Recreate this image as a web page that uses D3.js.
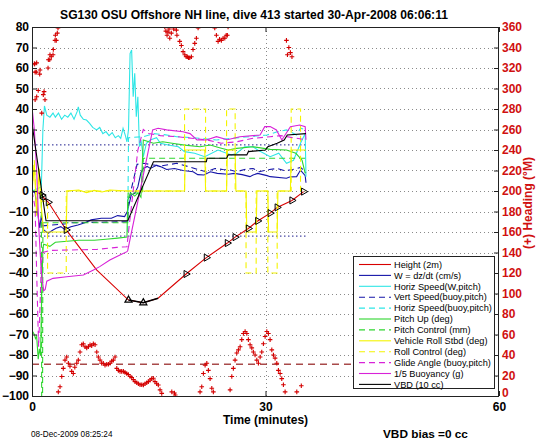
<!DOCTYPE html>
<html><head><meta charset="utf-8">
<script src="https://cdn.jsdelivr.net/npm/d3@7/dist/d3.min.js"></script>
<style>
body{margin:0;background:#fff;}
svg{display:block;font-family:"Liberation Sans",Arial,Helvetica,sans-serif;}
</style></head><body>
<svg id="c" width="546" height="442"></svg>
<script>
// ---------- data ----------
const titleText = "SG130 OSU Offshore NH line, dive 413 started 30-Apr-2008 06:06:11";
const xTicks = [0, 30, 60];
const yTicks = [-100,-90,-80,-70,-60,-50,-40,-30,-20,-10,0,10,20,30,40,50,60,70,80];
const headingTicks = [0,20,40,60,80,100,120,140,160,180,200,220,240,260,280,300,320,340,360];
const legendNames = ["Height (2m)","W = dz/dt (cm/s)","Horiz Speed(W,pitch)","Vert Speed(buoy,pitch)","Horiz Speed(buoy,pitch)","Pitch Up (deg)","Pitch Control (mm)","Vehicle Roll Stbd (deg)","Roll Control (deg)","Glide Angle (buoy,pitch)","1/5 Buoyancy (g)","VBD (10 cc)"];

// [time (min), value]
const height = [[0.4,0],[1.3,-2],[1.45,-3],[2.1,-5.5],[4.4,-19],[8.3,-38.5],[12.4,-53.2],[14.3,-54.5],[16.2,-52.3],[19.8,-40.5],[22.4,-32.5],[25.1,-25.4],[26.1,-22.5],[27.8,-18.3],[29,-14.6],[30.6,-10.8],[31.5,-8],[33.4,-4.6],[34.9,-0.3]];
const apogeeSegment = [[12.4,-53.2],[14.3,-54.5],[16.2,-52.3]];
const gcTriangles = [[1.3,-2],[2.1,-5.5],[4.4,-19],[19.8,-40.5],[22.4,-32.5],[25.1,-25.4],[26.1,-22.5],[27.8,-18.3],[29,-14.6],[30.6,-10.8],[31.5,-8],[33.4,-4.6],[34.9,-0.3]];
const apogeeTriangles = [[12.4,-53.2],[14.3,-54.5]];
const gcCircles = [[1.45,-3]];
const wSpeed = [[0,0],[0.4,-1],[0.7,-10],[1.0,-18],[1.2,-12],[1.5,-19],[2.06,-20.6],[2.7,-19],[3.1,-18.2],[3.7,-17.4],[4.2,-18.7],[5.0,-17.4],[5.9,-16.6],[6.8,-15.5],[7.6,-14.1],[8.9,-13.3],[10.2,-13.3],[11.0,-12],[11.9,-12.5],[12.25,-10],[12.75,-2],[13.2,-1.1],[13.6,2],[14.0,9],[14.3,11],[14.8,12],[15.2,11],[16.0,12.5],[16.5,11.9],[17.3,10.5],[18.3,11],[19.4,10],[20.7,9.4],[21.3,8],[22.1,7.8],[22.9,9.4],[23.8,8.6],[25.2,8.2],[26.0,8.6],[27.0,8],[28.0,7],[28.4,7.8],[29.0,8.6],[30.2,7.5],[30.6,7],[32.7,6.2],[33.1,6.8],[34.0,7],[34.5,10.2],[35.1,7.5],[35.2,4]];
const horizSpeedW = [[0,0],[1.2,2],[1.4,30],[1.6,41.5],[1.9,37],[2.3,36],[2.7,38],[3.0,36],[3.4,38],[3.8,35],[4.2,37],[4.6,36],[5.0,38],[5.4,35],[5.8,38.7],[5.95,41],[6.2,37],[6.6,35],[7.0,34.6],[7.4,33],[7.8,31],[8.3,29.8],[8.7,31],[9.1,28],[9.5,29],[9.9,27],[10.3,28.5],[10.7,26],[11.1,27],[11.4,25.7],[11.7,30.6],[12.0,27],[12.2,24],[12.4,30],[12.6,67],[12.8,68.8],[13.0,46],[13.2,57.4],[13.4,36.2],[13.6,46],[13.8,21.6],[14.0,24.9],[14.3,16.7],[14.5,20],[14.7,23.3],[15.2,24.9],[16,26],[16.5,23.3],[17.5,22.4],[18.8,21.6],[19.6,19.2],[20.9,18.4],[22.2,16.7],[23.9,20],[25.6,17.6],[26.3,18.4],[27.3,21.6],[28.4,21.6],[29,20],[30.6,16.7],[31.7,18.4],[32.7,13.5],[33.6,15],[34.5,23.3],[35.1,28],[35.2,7]];
const vertSpeedBuoy = [[1.3,-17],[4.4,-16],[4.5,-15.5],[12.3,-15],[12.4,-5],[13.5,13],[14.3,13.5],[15.6,12.7],[16.5,12.2],[18.6,13.5],[20,12],[21.6,10.2],[22.4,9.3],[23.5,11],[24.5,10.5],[25.5,10.2],[26.3,9.4],[27.3,10.5],[28.4,11],[29.2,9.4],[30.5,10.5],[31.5,11],[32.5,9.9],[33.5,10.5],[34.5,11.5],[35.2,9]];
const horizSpeedBuoy = [[12.3,-20],[12.4,26],[14.3,26.5],[15.6,28],[17.0,27.5],[18.6,26.5],[21.6,25.7],[23.7,24.9],[25.8,25.7],[28.0,26.5],[30.2,27.3],[31.5,28.9],[32.7,29.8],[34.0,27.3],[34.5,30.6],[35.2,29.8]];
const pitchUp = [[0,-68],[0.3,-70],[0.45,-72],[0.6,-71],[0.8,-82],[0.95,-77],[1.1,-80],[1.25,-50],[1.4,-28],[1.5,-26],[2.3,-27],[3,-25],[4.5,-24.5],[6,-24],[8,-24],[9.5,-23.5],[11,-23],[12.2,-22.5],[12.3,-4.4],[12.7,-1],[13.2,-2.5],[13.6,-1],[14.0,-3],[14.3,24.9],[15.0,24],[15.6,23.3],[16.8,24],[18.0,23.3],[19.6,22.4],[21.6,21.6],[22.9,22.4],[24.2,21],[25.2,20],[26.3,20.8],[28.4,21.6],[30.6,20.3],[32.7,20],[33.9,18.4],[34.7,15],[35.1,8.6]];
const pitchControl = [[0,0],[1.2,0],[1.25,-120],[1.35,-120],[1.4,-15.5],[12.3,-15.5],[12.35,-1],[14.2,-1],[14.3,16],[35.2,16]];
const vehicleRoll = [[0,0],[0.3,13],[0.6,-12],[0.9,10],[1.2,-8],[1.5,-20],[4.4,-20],[4.5,0],[6,0.5],[7,-0.8],[8,0.3],[9,-0.5],[10,0.5],[12.3,0],[19.6,0],[19.7,20],[22.2,20],[22.3,0],[25.0,0],[25.1,20],[26.1,20],[26.2,0],[27.5,0],[27.6,-20],[28.8,-20],[28.9,0],[30.3,0],[30.4,-20],[31.5,-20],[31.6,0],[33.2,0],[33.3,20],[35.2,20]];
const rollControl = [[0,0],[0.3,15],[0.6,-10],[0.9,12],[1.2,-5],[2.0,-5],[2.0,-40],[4.4,-40],[4.4,0],[12.3,0],[19.6,0],[19.6,40],[22.3,40],[22.3,0],[25.0,0],[25.0,40],[26.1,40],[26.1,0],[27.5,0],[27.5,-40],[28.8,-40],[28.8,0],[30.3,0],[30.3,-40],[31.5,-40],[31.5,0],[33.3,0],[33.3,40],[34.5,40],[34.5,0],[35.2,0]];
const glideAngle = [[0,0],[0.4,-8],[0.6,-40],[0.85,-76],[1.0,-60],[1.2,-35],[1.4,-30],[2.3,-29],[4.5,-28.8],[8.3,-28.5],[10.9,-27.5],[12.2,-27.2],[12.4,-20],[13.0,0],[13.6,20],[14.3,30],[15.0,28],[16.5,27],[18.6,26.5],[20.5,25.7],[22.5,24.9],[24.3,23.3],[26.3,24],[28.4,25.7],[30.6,26.5],[32,27],[33.5,26],[35.2,25]];
const buoyancy = [[0,41],[0.3,30],[0.6,10],[0.9,-20],[1.2,-40],[1.5,-48.6],[1.7,-48],[1.9,-44],[2.7,-42.6],[4.46,-41.8],[6.6,-41],[7.9,-38.5],[8.7,-36.9],[10.0,-33.7],[11.3,-31.2],[12.2,-29.6],[12.3,-29],[15.5,29.8],[16.2,30.6],[17.3,29.8],[19.4,28.9],[20.3,28],[21.2,24.9],[22.4,24.9],[23.7,26.5],[25.1,25],[26.7,26.5],[29.3,27.3],[29.9,31.4],[30.6,31.4],[31.4,29.8],[32.1,24.9],[33.2,31.4],[34.4,32.2],[35.1,31.4],[35.2,25]];
const vbd = [[0,33],[1.8,-14.5],[12.3,-14.5],[15.6,14.3],[22.4,14.3],[22.5,16],[25,16],[25.2,17.6],[27.6,17.6],[27.8,19.2],[30,20],[30.3,21.6],[31.5,23.3],[32.4,24.9],[32.8,27.3],[35.2,28]];
const glideTargets = [22.5, -22];
const desiredHeading = 31;
const heading = [[0.3,324],[0.35,324],[0.4,316],[0.4,289],[0.55,316],[0.6,292],[0.6,325],[0.8,298],[0.99,314],[1.03,318],[1.25,276],[1.45,294],[1.55,297],[1.67,289],[2.06,320],[2.1,328],[2.28,328],[2.31,333],[2.48,331],[2.7,333],[2.74,338],[2.96,347],[3.0,352],[3.12,347],[3.25,354],[3.34,359],
[3.38,4],[3.6,9],[3.82,19],[4.02,27],[4.24,35],[4.46,38],[4.67,32],[4.88,29],[5.1,24],[5.31,22],[5.5,28],[5.75,32],[5.95,35],[6.17,43],[6.39,50],[6.59,51],[6.81,48],[7.03,47],[7.25,48],[7.46,50],[7.67,49],[7.88,51],[8.1,50],[8.32,43],[8.52,38],[8.74,35],[8.95,32],[9.16,32],[9.38,30],[9.6,31],[9.82,31],[10.03,32],[10.24,34],[10.45,35],[10.67,38],[10.89,27],[11.1,25],[11.31,24],[11.52,24],[11.74,24],[11.95,23],[12.17,22],[12.38,21],[12.6,19],[12.81,18],[13.02,16],[13.24,14],[13.46,13],[13.67,12],[13.88,11],[14.1,11],[14.31,10.7],[14.52,12],[14.74,13],[14.95,14],[15.17,15.6],[15.38,17],[15.59,17.3],[15.8,14],[16.02,12],[16.23,10.7],[16.45,6],[16.67,2.6],
[17.06,360],[17.2,356],[17.35,352],[17.48,355],[17.6,358],[17.7,349],[17.9,354],[18.2,358],[18.55,357],[18.62,352],[18.98,346],[19.19,342],[19.41,336],[19.63,333],[19.8,331],[19.96,331],[20.1,330],[20.27,330],[20.48,331],[20.69,338],[20.91,344],[21.12,349],[21.34,359],
[17.96,4],[18.3,3],[18.4,1],
[21.59,4],[21.81,9],[22.02,22],[22.24,30],[22.46,32],[22.66,25],[22.88,17],[23.1,7.5],[23.3,4],
[23.48,359],[23.69,352],[23.91,346],[24.1,348],[24.33,347],[24.55,349],[24.77,349],[24.95,352],[25.1,352],[25.19,360],
[25.45,6],[25.67,19],[25.87,27],[26.09,35],[26.31,42],[26.52,45],[26.74,48],[26.95,55],[27.16,61],[27.38,63],[27.6,61],[27.8,55],[28.02,50],[28.24,47],[28.44,43],[28.66,40],[28.88,35],[29.09,32],[29.31,38],[29.52,43],[29.73,51],[29.95,58],[30.17,63],[30.37,61],[30.59,55],[30.81,45],[31.02,40],[31.23,37],[31.45,32],[31.66,25],[31.88,22],[32.09,17],[32.3,11],[32.52,4],
[32.69,347],[32.82,333],[33.0,340],[33.2,335],[33.4,331],[34.02,4],[34.6,10]];

// ---------- chart ----------
const svg = d3.select('#c');
const L = 32, R = 499, T = 27, B = 396;
const x = d3.scaleLinear().domain([0,60]).range([L,R]);
const y = d3.scaleLinear().domain([-100,80]).range([B,T]);
const yh = d3.scaleLinear().domain([0,360]).range([B,T]);
const minus = v => String(v).replace('-', '\u2212');

svg.append('defs').append('clipPath').attr('id','clip')
  .append('rect').attr('x',L).attr('y',T).attr('width',R-L).attr('height',B-T);

// grid
const grid = svg.append('g').attr('stroke','#8a8a8a').attr('stroke-width',1).attr('stroke-dasharray','1,3');
grid.selectAll('line.h').data(yTicks.filter(v => v > -100 && v < 80)).join('line')
  .attr('x1',L).attr('x2',R).attr('y1',d => Math.round(y(d))+0.5).attr('y2',d => Math.round(y(d))+0.5);
grid.selectAll('line.v').data(xTicks.filter(v => v > 0 && v < 60)).join('line')
  .attr('y1',T).attr('y2',B).attr('x1',d => Math.round(x(d))+0.5).attr('x2',d => Math.round(x(d))+0.5);

const plot = svg.append('g').attr('clip-path','url(#clip)');

// reference lines
plot.selectAll('line.gt').data(glideTargets).join('line')
  .attr('x1',x(0)).attr('x2',x(d3.max(vbd, d => d[0])))
  .attr('y1',d => y(d)).attr('y2',d => y(d))
  .attr('stroke','#1a1a8c').attr('stroke-width',1).attr('stroke-dasharray','1.5,2.5');

const line = d3.line().x(d => x(d[0])).y(d => y(d[1]));
const series = [
  {data: height, color:'#d80000', dash:null},
  {data: wSpeed, color:'#1515a8', dash:null},
  {data: horizSpeedW, color:'#2ee6e6', dash:null},
  {data: vertSpeedBuoy, color:'#1515a8', dash:'6,4'},
  {data: horizSpeedBuoy, color:'#2ee6e6', dash:'6,4'},
  {data: pitchUp, color:'#2fd62f', dash:null},
  {data: pitchControl, color:'#2fd62f', dash:'6,4'},
  {data: vehicleRoll, color:'#f4f400', dash:null},
  {data: rollControl, color:'#f4f400', dash:'6,4'},
  {data: glideAngle, color:'#d822d8', dash:'6,4'},
  {data: buoyancy, color:'#d822d8', dash:null},
  {data: vbd, color:'#000000', dash:null}
];
series.forEach(s => {
  plot.append('path').datum(s.data).attr('d', line)
    .attr('fill','none').attr('stroke', s.color).attr('stroke-width',1.1)
    .attr('stroke-dasharray', s.dash);
});
plot.append('path').datum(apogeeSegment).attr('d', line)
  .attr('fill','none').attr('stroke','#000').attr('stroke-width',1.6);

// markers on height
const tri = d3.symbol(d3.symbolTriangle, 22);
plot.selectAll('path.gc').data(gcTriangles).join('path')
  .attr('d', tri).attr('transform', d => `translate(${x(d[0])},${y(d[1])}) rotate(90)`)
  .attr('fill','none').attr('stroke','#000').attr('stroke-width',1);
plot.selectAll('path.ap').data(apogeeTriangles).join('path')
  .attr('d', tri).attr('transform', d => `translate(${x(d[0])},${y(d[1])})`)
  .attr('fill','none').attr('stroke','#000').attr('stroke-width',1.2);
plot.selectAll('circle.gc').data(gcCircles).join('circle')
  .attr('cx', d => x(d[0])).attr('cy', d => y(d[1])).attr('r',2.8)
  .attr('fill','none').attr('stroke','#000').attr('stroke-width',1);

// heading
plot.append('line').attr('x1',L).attr('x2',R).attr('y1',yh(desiredHeading)).attr('y2',yh(desiredHeading))
  .attr('stroke','#a84a4a').attr('stroke-width',1.5).attr('stroke-dasharray','7,5');
const plus = plot.append('g').attr('stroke','#d40000').attr('stroke-width',1.1);
plus.selectAll('path').data(heading).join('path')
  .attr('d', d => { const cx = x(d[0]), cy = yh(d[1]); return `M${cx-2.3},${cy}H${cx+2.3}M${cx},${cy-2.3}V${cy+2.3}`; });

// axes
const styleAxis = (g, color) => {
  g.select('.domain').remove();
  g.selectAll('.tick line').attr('stroke','#222');
  g.selectAll('.tick text').attr('font-size','12px').attr('font-weight','bold')
    .attr('font-family','"Liberation Sans",Arial,sans-serif').attr('fill',color);
};
svg.append('g').attr('transform',`translate(${L},0)`)
  .call(d3.axisLeft(y).tickValues(yTicks).tickSize(-5).tickPadding(3).tickFormat(minus))
  .call(g => styleAxis(g,'#000'));
svg.append('g').attr('transform',`translate(${R},0)`)
  .call(d3.axisRight(yh).tickValues(headingTicks).tickSize(-5).tickPadding(3))
  .call(g => styleAxis(g,'#d01010'))
  .call(g => g.selectAll('.tick text').filter(d => d === 0).attr('dy','0.05em'));
svg.append('g').attr('transform',`translate(0,${B})`)
  .call(d3.axisBottom(x).tickValues(xTicks).tickSize(-5).tickPadding(6))
  .call(g => styleAxis(g,'#000'));
svg.append('g').attr('transform',`translate(0,${T})`)
  .call(d3.axisTop(x).tickValues(xTicks).tickSize(-5).tickFormat(''))
  .call(g => styleAxis(g,'#000'));
svg.append('rect').attr('x',L+0.5).attr('y',T+0.5).attr('width',R-L-1).attr('height',B-T)
  .attr('fill','none').attr('stroke','#222').attr('stroke-width',1);

// legend
const lg = svg.append('g').attr('transform','translate(353,256)');
lg.append('rect').attr('x',0.5).attr('y',0.5).attr('width',141).attr('height',132)
  .attr('fill','#fff').attr('stroke','#222').attr('stroke-width',1);
legendNames.forEach((name,i) => {
  const s = series[i], cy = 8.5 + i*10.9;
  lg.append('line').attr('x1',6).attr('x2',38).attr('y1',cy).attr('y2',cy)
    .attr('stroke', s.color).attr('stroke-width',1.1).attr('stroke-dasharray', s.dash);
  lg.append('text').attr('x',41).attr('y',cy+3.2).text(name)
    .attr('font-size','9.2px').attr('fill','#000');
});

// texts
svg.append('text').attr('x',254).attr('y',18.5).attr('text-anchor','middle')
  .attr('font-size','12.1px').attr('font-weight','bold').text(titleText);
svg.append('text').attr('x',x(30)).attr('y',424).attr('text-anchor','middle')
  .attr('font-size','12px').attr('font-weight','bold').text('Time (minutes)');
svg.append('text').attr('x',383).attr('y',438).attr('font-size','11.8px').attr('font-weight','bold')
  .text('VBD bias =0 cc');
svg.append('text').attr('x',31).attr('y',437).attr('font-size','8.2px').text('08-Dec-2009 08:25:24');
svg.append('text').attr('transform','translate(532,203) rotate(-90)').attr('text-anchor','middle')
  .attr('font-size','12px').attr('font-weight','bold').attr('fill','#d01010').text('(+) Heading (\u00B0M)');
</script>
</body></html>
